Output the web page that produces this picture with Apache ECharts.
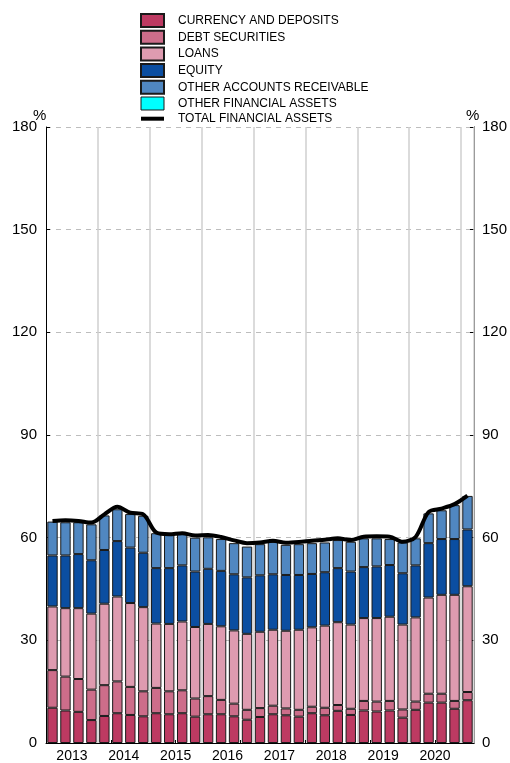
<!DOCTYPE html>
<html>
<head>
<meta charset="utf-8">
<script src="https://cdn.jsdelivr.net/npm/echarts@6/dist/echarts.min.js"></script>
<style>
  html, body { margin: 0; padding: 0; background: #fff; }
  #chart { width: 510px; height: 763px; }
</style>
</head>
<body>
<div id="chart"></div>
<script>
// Quarterly observations, 2013 Q1 to 2021 Q1 (% of GDP)
const quarters = [
  '2013Q1','2013Q2','2013Q3','2013Q4','2014Q1','2014Q2','2014Q3','2014Q4',
  '2015Q1','2015Q2','2015Q3','2015Q4','2016Q1','2016Q2','2016Q3','2016Q4',
  '2017Q1','2017Q2','2017Q3','2017Q4','2018Q1','2018Q2','2018Q3','2018Q4',
  '2019Q1','2019Q2','2019Q3','2019Q4','2020Q1','2020Q2','2020Q3','2020Q4',
  '2021Q1'
];
const yearLabels = ['2013','2014','2015','2016','2017','2018','2019','2020'];

const currencyDeposits = [10.3, 9.5, 9.1, 6.7, 7.9, 8.7, 8.2, 7.8, 8.7, 8.4, 8.7, 7.7, 8.4, 8.4, 7.8, 6.8,
  7.6, 8.4, 8.1, 7.7, 8.7, 8.1, 9.4, 8.2, 9.5, 9.2, 9.5, 7.4, 9.7, 11.8, 11.8, 10.0, 12.5];
const debtSecurities = [11.0, 9.9, 9.6, 8.9, 9.0, 9.3, 8.2, 7.3, 7.4, 6.7, 6.7, 5.3, 5.3, 4.2, 3.7, 2.9,
  2.6, 2.5, 2.0, 2.0, 1.9, 2.2, 1.7, 1.8, 2.8, 2.9, 2.8, 2.4, 2.4, 2.6, 2.6, 2.3, 2.4];
const loans = [18.6, 20.0, 20.7, 22.2, 23.8, 24.8, 24.5, 24.6, 18.8, 19.7, 20.1, 20.9, 21.1, 21.5, 21.4, 22.2,
  22.3, 22.2, 22.7, 23.4, 23.2, 24.0, 24.2, 24.6, 24.2, 24.4, 24.6, 24.8, 24.6, 28.1, 28.9, 31.0, 30.9];
const equity = [14.9, 15.4, 15.8, 15.6, 15.7, 16.2, 16.2, 15.9, 16.2, 16.3, 16.4, 16.2, 16.1, 16.2, 16.4, 16.5,
  16.5, 16.2, 16.3, 16.0, 15.6, 15.6, 15.8, 15.5, 14.9, 15.1, 15.1, 15.0, 15.2, 15.9, 16.3, 16.3, 16.6];
const otherReceivable = [9.9, 9.7, 9.3, 10.5, 10.1, 9.3, 9.8, 10.8, 10.2, 9.7, 9.3, 9.9, 9.2, 9.3, 9.1, 9.0,
  9.1, 9.5, 8.8, 9.0, 9.0, 8.7, 8.2, 8.7, 8.4, 8.2, 7.6, 9.0, 7.9, 8.7, 8.4, 9.9, 9.8];
const otherFinancial = [0, 0, 0, 0, 0, 0, 0, 0, 0, 0, 0, 0, 0, 0, 0, 0,
  0, 0, 0, 0, 0, 0, 0, 0, 0, 0, 0, 0, 0, 0, 0, 0, 0];
const totalAssets = [64.9, 65.1, 64.9, 64.4, 66.8, 69.0, 67.3, 66.8, 61.5, 61.0, 61.3, 60.6, 60.8, 60.2, 59.2, 58.4,
  58.6, 59.1, 58.5, 58.7, 59.1, 59.4, 59.8, 59.3, 60.3, 60.4, 60.3, 58.8, 60.2, 67.5, 68.5, 69.8, 72.3];

const yTicks = { min: 0, max: 180, interval: 30 };

const FONT = '"Liberation Sans", Arial, Helvetica, sans-serif';
const colors = {
  currency: '#bd3a62',
  debt: '#cd6d8a',
  loans: '#de9bb0',
  equity: '#0b4ea1',
  receivable: '#5087c1',
  other: '#00ffff'
};

function barSeries(name, data, color, border) {
  return {
    name: name,
    type: 'bar',
    stack: 'assets',
    data: data,
    barCategoryGap: '20%',
    itemStyle: { color: color, borderColor: '#1a1a1a', borderWidth: border },
    emphasis: { disabled: true },
    animation: false
  };
}

// thin horizontal bar centred in a 23x13 legend box
const lineIcon = 'path://M0,0 M23,13 M0,4.5 L23,4.5 L23,8.5 L0,8.5 Z';

const chart = echarts.init(document.getElementById('chart'), null, { renderer: 'canvas' });

chart.setOption({
  animation: false,
  textStyle: { fontFamily: FONT },
  grid: { left: 46, right: 36, top: 127, bottom: 16, containLabel: false },
  legend: {
    orient: 'vertical',
    left: 135,
    top: 8,
    icon: 'rect',
    itemWidth: 23,
    itemHeight: 13,
    itemGap: 1.7,
    textStyle: { fontFamily: FONT, fontSize: 12, color: '#000', padding: [0, 0, 0, 9] },
    selectedMode: false,
    data: [
      { name: 'CURRENCY AND DEPOSITS' },
      { name: 'DEBT SECURITIES' },
      { name: 'LOANS' },
      { name: 'EQUITY' },
      { name: 'OTHER ACCOUNTS RECEIVABLE' },
      { name: 'OTHER FINANCIAL ASSETS', itemStyle: { borderColor: '#1a1a1a', borderWidth: 1 } },
      { name: 'TOTAL FINANCIAL ASSETS', icon: lineIcon, itemStyle: { color: '#000', borderWidth: 0 } }
    ]
  },
  xAxis: [
    {
      type: 'category',
      data: quarters,
      boundaryGap: true,
      axisLine: { show: true, lineStyle: { color: '#000', width: 1 } },
      axisTick: { show: true, inside: true, length: 3, lineStyle: { color: '#000' } },
      axisLabel: { show: false },
      splitLine: {
        show: true,
        interval: function (index) { return index > 0 && index % 4 === 0; },
        lineStyle: { color: '#cfcfcf', width: 1.5, type: 'solid' }
      },
      z: 5
    },
    {
      type: 'value',
      min: 0,
      max: quarters.length,
      interval: 1,
      position: 'bottom',
      axisLine: { show: false },
      axisTick: { show: false },
      splitLine: { show: false },
      axisLabel: {
        show: true,
        margin: 6,
        fontSize: 14,
        color: '#000',
        fontFamily: FONT,
        showMinLabel: true,
        showMaxLabel: true,
        formatter: function (v) {
          if (v % 4 === 2) {
            const i = (v - 2) / 4;
            return yearLabels[i] || '';
          }
          return '';
        }
      }
    }
  ],
  yAxis: [
    {
      type: 'value',
      position: 'left',
      min: yTicks.min, max: yTicks.max, interval: yTicks.interval,
      axisLine: { show: true, lineStyle: { color: '#000', width: 1 } },
      axisTick: { show: true, inside: true, length: 4, lineStyle: { color: '#000' } },
      axisLabel: { fontSize: 15, color: '#000', margin: 9, fontFamily: FONT },
      splitLine: { show: true, lineStyle: { color: '#bdbdbd', type: [5, 5], width: 1 } }
    },
    {
      type: 'value',
      position: 'right',
      min: yTicks.min, max: yTicks.max, interval: yTicks.interval,
      axisLine: { show: true, lineStyle: { color: '#000', width: 1 } },
      axisTick: { show: true, inside: true, length: 4, lineStyle: { color: '#000' } },
      axisLabel: { fontSize: 15, color: '#000', margin: 8, fontFamily: FONT },
      splitLine: { show: false }
    }
  ],
  graphic: [
    { type: 'text', left: 33, top: 108, style: { text: '%', fontSize: 15, fill: '#000', fontFamily: FONT } },
    { type: 'text', left: 466, top: 108, style: { text: '%', fontSize: 15, fill: '#000', fontFamily: FONT } }
  ],
  series: [
    barSeries('CURRENCY AND DEPOSITS', currencyDeposits, colors.currency, 1),
    barSeries('DEBT SECURITIES', debtSecurities, colors.debt, 1),
    barSeries('LOANS', loans, colors.loans, 1),
    barSeries('EQUITY', equity, colors.equity, 1),
    barSeries('OTHER ACCOUNTS RECEIVABLE', otherReceivable, colors.receivable, 1),
    barSeries('OTHER FINANCIAL ASSETS', otherFinancial, colors.other, 0),
    {
      name: 'TOTAL FINANCIAL ASSETS',
      type: 'line',
      data: totalAssets,
      smooth: 0.3,
      symbol: 'none',
      z: 10,
      lineStyle: { color: '#000', width: 4 },
      itemStyle: { color: '#000' },
      emphasis: { disabled: true },
      animation: false
    }
  ]
});
</script>
</body>
</html>
